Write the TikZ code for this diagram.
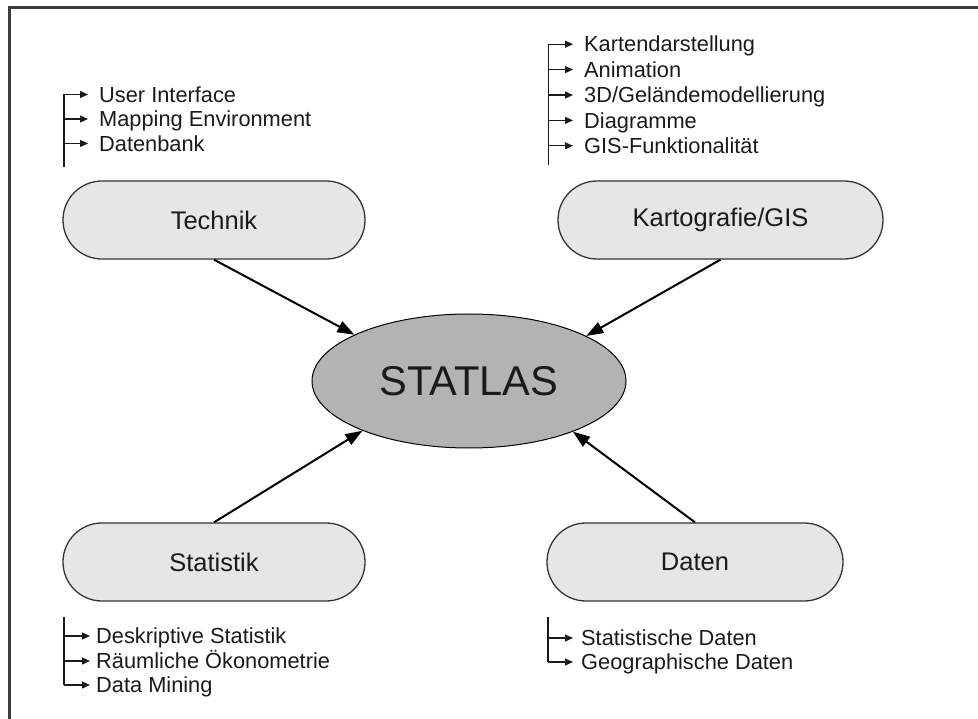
\documentclass[tikz,border=0pt]{standalone}
\usepackage{fontspec}
\setmainfont{Liberation Sans}
\usetikzlibrary{arrows.meta,shapes.geometric}
\definecolor{pillfill}{HTML}{E6E6E6}
\definecolor{ellfill}{HTML}{B3B3B3}
\definecolor{txt}{HTML}{1A1A1A}
\definecolor{pillline}{HTML}{333333}
\definecolor{framec}{HTML}{3C3C3C}
\tikzset{
  pill/.style={draw=pillline, line width=1.3pt, fill=pillfill, rounded corners=38.9pt,
    minimum height=78pt, inner sep=0pt, text=txt, font=\fontsize{25.5}{30}\selectfont},
  mainarrow/.style={draw=black, line width=2pt, -{Triangle[length=17pt,width=12pt]}},
  listline/.style={draw=txt, line width=1.3pt},
  listarrow/.style={draw=txt, line width=1.3pt, -{Triangle[length=8pt,width=7pt]}},
  item/.style={anchor=west, inner ysep=0pt, text height=15.6pt, text depth=0pt,
    text=txt, font=\fontsize{21.8}{26}\selectfont}
}
\begin{document}
\begin{tikzpicture}[x=1pt,y=-1pt]
\useasboundingbox (0,0) rectangle (978,719);
% frame
\coordinate (fbl) at (9.5,719);
\coordinate (ftl) at (9.5,7.5);
\coordinate (ftr) at (978,7.5);
\draw[framec, line width=2.5pt] (fbl) -- (ftl) -- (ftr);

% main nodes
\node[pill, minimum width=302pt] (tech) at (214,220) {Technik};
\node[pill, minimum width=325pt] (kart) at (720.5,220) {Kartografie/GIS};
\node[pill, minimum width=302pt] (stat) at (214,562) {Statistik};
\node[pill, minimum width=296pt] (daten) at (695,562) {Daten};
\node[ellipse, draw=black, line width=1pt, fill=ellfill, minimum width=314pt,
  minimum height=134pt, inner sep=0pt, text=txt, font=\fontsize{41.6}{48}\selectfont]
  (statlas) at (469,381) {STATLAS};

\draw[mainarrow] (tech.south) -- (statlas.158);
\draw[mainarrow] (kart.south) -- (statlas.21);
\draw[mainarrow] (stat.north) -- (statlas.205);
\draw[mainarrow] (daten.north) -- (statlas.334);

% Technik list
\coordinate (ttop) at (64,94.5);
\coordinate (tbot) at (64,167);
\draw[listline] (ttop) -- (tbot);
\node[item, inner xsep=11pt] (t1) at (88,94.5) {User Interface};
\node[item, inner xsep=11pt] (t2) at (88,119) {Mapping Environment};
\node[item, inner xsep=11pt] (t3) at (88,143.5) {Datenbank};
\foreach \n in {t1,t2,t3} \draw[listarrow] (ttop |- \n.west) -- (\n.west);

% Kartografie list
\coordinate (ktop) at (548.3,44.2);
\coordinate (kbot) at (548.3,165);
\draw[listline] (ktop) -- (kbot);
\node[item, inner xsep=11pt] (k1) at (573,44.2) {Kartendarstellung};
\node[item, inner xsep=11pt] (k2) at (573,69.6) {Animation};
\node[item, inner xsep=11pt] (k3) at (573,95) {3D/Geländemodellierung};
\node[item, inner xsep=11pt] (k4) at (573,120.4) {Diagramme};
\node[item, inner xsep=11pt] (k5) at (573,145.8) {GIS-Funktionalität};
\foreach \n in {k1,k2,k3,k4,k5} \draw[listarrow] (ktop |- \n.west) -- (\n.west);

% Statistik list
\coordinate (stop) at (64,617);
\coordinate (sbot) at (64,685);
\draw[listline] (stop) -- (sbot);
\node[item, inner xsep=6pt] (s1) at (90,636) {Deskriptive Statistik};
\node[item, inner xsep=6pt] (s2) at (90,661) {Räumliche Ökonometrie};
\node[item, inner xsep=6pt] (s3) at (90,685) {Data Mining};
\foreach \n in {s1,s2,s3} \draw[listarrow] (stop |- \n.west) -- (\n.west);

% Daten list
\coordinate (dtop) at (548,617);
\coordinate (dbot) at (548,662);
\draw[listline] (dtop) -- (dbot);
\node[item, inner xsep=8pt] (d1) at (573,638) {Statistische Daten};
\node[item, inner xsep=8pt] (d2) at (573,662) {Geographische Daten};
\foreach \n in {d1,d2} \draw[listarrow] (dtop |- \n.west) -- (\n.west);
\end{tikzpicture}
\end{document}
